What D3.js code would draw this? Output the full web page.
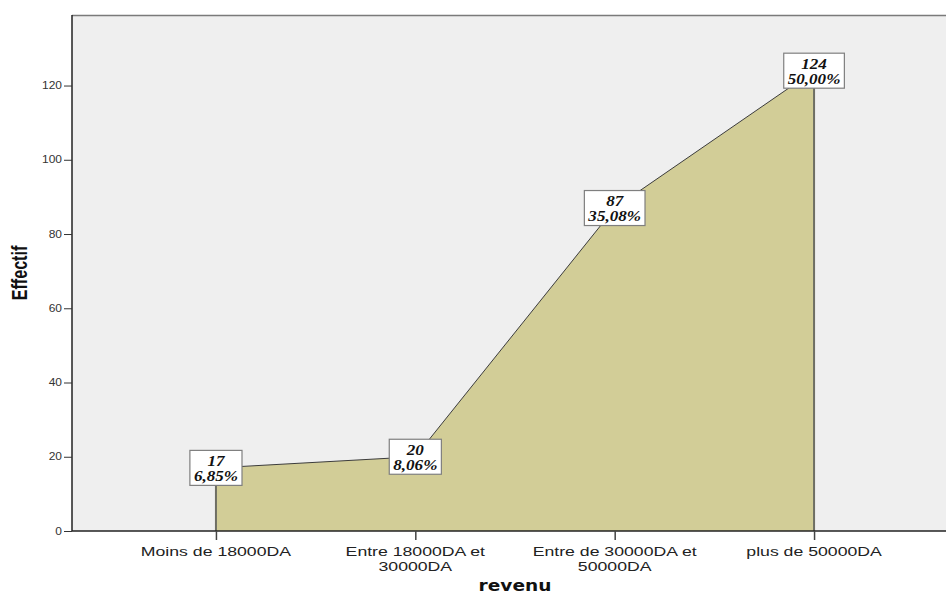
<!DOCTYPE html>
<html><head><meta charset="utf-8">
<script src="https://cdn.jsdelivr.net/npm/d3@7"></script>
<style>body{margin:0;background:#fff}svg{display:block}</style>
</head><body><svg id="c" width="946" height="596"></svg>
<script>
const categories = ["Moins de 18000DA", "Entre 18000DA et\n30000DA", "Entre de 30000DA et\n50000DA", "plus de 50000DA"];
const counts = [17, 20, 87, 124];
const percents = [6.85, 8.06, 35.08, 50.00];
const yTicks = [0, 20, 40, 60, 80, 100, 120];

const svg = d3.select("#c");
const L = 72, T = 15, B = 531, R = 958;
const x = d3.scalePoint().domain(categories).range([L, R]).padding(0.722);
const y = d3.scaleLinear().domain([0, 139]).range([B, T]);

svg.append("rect").attr("x", L).attr("y", T).attr("width", 946 - L).attr("height", B - T).attr("fill", "#efefef");
svg.append("line").attr("x1", L).attr("x2", 946).attr("y1", T + 0.5).attr("y2", T + 0.5).attr("stroke", "#7a7a7a").attr("stroke-width", 1.5);

const data = categories.map((c, i) => ({c, v: counts[i], p: percents[i]}));
const area = d3.area().x(d => x(d.c)).y0(y(0)).y1(d => y(d.v));
svg.append("path").datum(data).attr("d", area).attr("fill", "#d2cd97");
const line = d3.line().x(d => x(d.c)).y(d => y(d.v));
svg.append("path").datum(data).attr("d", line).attr("fill", "none").attr("stroke", "#3c3c3c").attr("stroke-width", 1);
[data[0], data[data.length - 1]].forEach(d => {
  svg.append("line").attr("x1", x(d.c)).attr("x2", x(d.c)).attr("y1", y(0)).attr("y2", y(d.v))
    .attr("stroke", "#6e6e64").attr("stroke-width", 2);
});

// Y axis
const ya = svg.append("g").attr("transform", `translate(${L},0)`)
  .call(d3.axisLeft(y).tickValues(yTicks).tickSize(8).tickFormat(""));
ya.select(".domain").attr("stroke", "#222").attr("stroke-width", 1.5).attr("d", `M0,${T}V${B}`);
ya.selectAll(".tick line").attr("stroke", "#333");
yTicks.forEach(t => {
  svg.append("text").attr("transform", `translate(${L - 10},${y(t) + 3.5}) scale(1.2,1)`)
    .attr("text-anchor", "end").attr("font-family", "Liberation Sans, Arial").attr("font-size", 10).attr("fill", "#333").text(t);
});

// X axis
const xa = svg.append("g").attr("transform", `translate(0,${B})`)
  .call(d3.axisBottom(x).tickSize(9).tickFormat(""));
xa.select(".domain").attr("stroke", "#222").attr("stroke-width", 1.5).attr("d", `M${L},0H946`);
xa.selectAll(".tick line").attr("stroke", "#444").attr("stroke-width", 1.5);
categories.forEach(c => {
  c.split("\n").forEach((l, i) => {
    svg.append("text").attr("transform", `translate(${x(c)},${556 + i * 14.5}) scale(1.36,1)`)
      .attr("text-anchor", "middle").attr("font-family", "Liberation Sans, Arial").attr("font-size", 13)
      .attr("fill", "#222").text(l);
  });
});

// Axis titles
svg.append("text").attr("transform", `translate(27,273) rotate(-90) scale(0.95,1.3)`)
  .attr("text-anchor", "middle").attr("font-family", "Liberation Sans, Arial").attr("font-weight", "bold")
  .attr("font-size", 17).attr("fill", "#111").text("Effectif");
svg.append("text").attr("transform", `translate(515,591) scale(1.16,1)`)
  .attr("text-anchor", "middle").attr("font-family", "DejaVu Sans").attr("font-weight", "bold")
  .attr("font-size", 16).attr("fill", "#111").text("revenu");

// Data labels
const fmt = p => p.toFixed(2).replace(".", ",") + "%";
data.forEach(d => {
  const cx = x(d.c), cy = y(d.v);
  const g = svg.append("g").attr("transform", `translate(${cx},${cy})`);
  const rect = g.append("rect").attr("fill", "#fff").attr("stroke", "#7f7f7f").attr("stroke-width", 1.2);
  const t = g.append("text").attr("transform", "scale(1.22,1)").attr("text-anchor", "middle")
    .attr("font-family", "Liberation Serif, Times New Roman").attr("font-weight", "bold").attr("font-style", "italic")
    .attr("font-size", 14).attr("fill", "#111");
  t.append("tspan").attr("x", 0).attr("y", -2).text(d.v);
  const t2 = t.append("tspan").attr("x", 0).attr("y", 13).text(fmt(d.p));
  const w = t2.node().getComputedTextLength() * 1.22 + 8;
  rect.attr("x", -w / 2).attr("y", -17.5).attr("width", w).attr("height", 35);
});
</script></body></html>
